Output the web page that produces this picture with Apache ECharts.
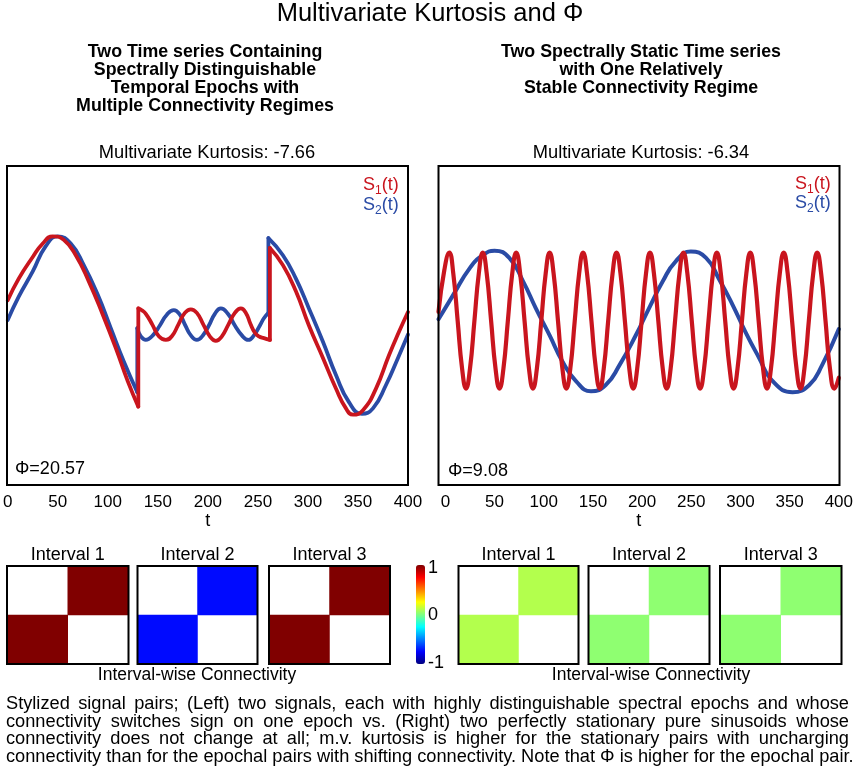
<!DOCTYPE html>
<html>
<head>
<meta charset="utf-8">
<title>Multivariate Kurtosis and Φ</title>
<script src="https://cdn.jsdelivr.net/npm/echarts@6.0.0/dist/echarts.min.js"></script>
<style>
  html, body { margin: 0; padding: 0; background: #fff; }
  #main { width: 856px; height: 772px; }
</style>
</head>
<body>
<div id="main"></div>
<script>
var FONT = '"Liberation Sans", Arial, Helvetica, sans-serif';
var RED = '#c9151e';
var BLUE = '#2a4ba5';

// x axis tick labels (both plots)
var tickValues = [0, 50, 100, 150, 200, 250, 300, 350, 400];

// left plot: three epochs per signal
var leftBlue1 = [[0, 0.06], [11, 0.32], [25, 0.60], [38, 0.88], [50, 0.99], [63, 0.91], [76, 0.67], [90, 0.34], [103, -0.03], [116, -0.40], [129.5, -0.74]];
var leftBlue2 = [[129.5, -0.03], [133, -0.12], [138, -0.16], [145, -0.11], [152, 0.0], [159, 0.12], [166, 0.17], [172, 0.12], [177.5, 0.0], [183, -0.11], [189, -0.16], [195, -0.11], [201, 0.0], [207, 0.13], [213, 0.19], [220, 0.13], [227, 0.0], [234, -0.11], [240.5, -0.16], [246, -0.11], [252, 0.0], [256, 0.08], [260.5, 0.14]];
var leftBlue3 = [[260.5, 0.97], [275, 0.78], [288, 0.52], [301, 0.19], [315, -0.18], [328, -0.55], [341, -0.85], [354, -0.98], [365, -0.92], [378, -0.66], [390, -0.36], [400, -0.10]];

var leftRed1 = [[0, 0.28], [11, 0.52], [25, 0.76], [35, 0.91], [45, 0.99], [56, 0.95], [68, 0.78], [81, 0.49], [95, 0.12], [108, -0.25], [120, -0.62], [130.5, -0.90]];
var leftRed2 = [[130.5, 0.19], [134, 0.17], [138, 0.13], [144.5, 0.01], [151, -0.12], [158, -0.16], [164, -0.12], [170.5, 0.01], [177, 0.14], [183, 0.18], [189, 0.14], [195.5, 0.01], [202, -0.12], [208, -0.17], [214, -0.12], [220.5, 0.01], [227, 0.14], [233, 0.19], [238, 0.14], [242.5, 0.02], [247, -0.08], [251, -0.12], [256, -0.14], [262, -0.16]];
var leftRed3 = [[262, 0.86], [275, 0.67], [288, 0.38], [301, 0.0], [315, -0.36], [328, -0.70], [338, -0.92], [345, -0.99], [355, -0.94], [368, -0.70], [381, -0.33], [391, -0.07], [400, 0.15]];

// right plot: slow and fast stationary sinusoids
var rightBlue = [[-7, 0.07], [8, 0.34], [25, 0.64], [38, 0.78], [50, 0.83], [65, 0.75], [79, 0.49], [92, 0.19], [106, -0.11], [119, -0.40], [133, -0.62], [148, -0.73], [163, -0.66], [177, -0.44], [194, -0.10], [207, 0.19], [221, 0.49], [234, 0.71], [249.5, 0.82], [265, 0.75], [278, 0.52], [292, 0.23], [305, -0.07], [319, -0.36], [332, -0.61], [353, -0.74], [370, -0.66], [383, -0.44], [400, -0.04]];
var rightRed = [[-7, 0.15], [-1, 0.62],
  [4, 0.81], [8, 0.58], [12.5, 0.05], [17, -0.48], [21, -0.70], [25, -0.48], [29.5, 0.05], [34, 0.58],
  [38, 0.81], [42, 0.58], [46.5, 0.05], [51, -0.48], [55, -0.70], [59, -0.48], [63.5, 0.05], [68, 0.58],
  [72, 0.81], [76, 0.58], [80.5, 0.05], [85, -0.48], [89, -0.70], [93, -0.48], [97.5, 0.05], [102, 0.58],
  [106, 0.81], [110, 0.58], [114.5, 0.05], [119, -0.48], [123, -0.70], [127, -0.48], [131.5, 0.05], [136, 0.58],
  [140, 0.81], [144, 0.58], [148.5, 0.05], [153, -0.48], [157, -0.70], [161, -0.48], [165.5, 0.05], [170, 0.58],
  [174, 0.81], [178, 0.58], [182.5, 0.05], [187, -0.48], [191, -0.70], [195, -0.48], [199.5, 0.05], [204, 0.58],
  [208, 0.81], [212, 0.58], [216.5, 0.05], [221, -0.48], [225, -0.70], [229, -0.48], [233.5, 0.05], [238, 0.58],
  [242, 0.81], [246, 0.58], [250.5, 0.05], [255, -0.48], [259, -0.70], [263, -0.48], [267.5, 0.05], [272, 0.58],
  [276, 0.81], [280, 0.58], [284.5, 0.05], [289, -0.48], [293, -0.70], [297, -0.48], [301.5, 0.05], [306, 0.58],
  [310, 0.81], [314, 0.58], [318.5, 0.05], [323, -0.48], [327, -0.70], [331, -0.48], [335.5, 0.05], [340, 0.58],
  [344, 0.81], [348, 0.58], [352.5, 0.05], [357, -0.48], [361, -0.70], [365, -0.48], [369.5, 0.05], [374, 0.58],
  [378, 0.81], [382, 0.58], [386.5, 0.05], [391, -0.48], [395.5, -0.70], [400, -0.58]];

// interval-wise connectivity (off-diagonal value of each 2x2 matrix)
var intervalNames = ['Interval 1', 'Interval 2', 'Interval 3'];
var leftConn = [1, -0.73, 1];
var rightConn = [0.1, 0.03, 0.03];
var colorbarTicks = [-1, 0, 1];

var kurtLeft = 'Multivariate Kurtosis: -7.66';
var kurtRight = 'Multivariate Kurtosis: -6.34';
var phiLeft = 'Φ=20.57';
var phiRight = 'Φ=9.08';

var subLeft = ['Two Time series Containing', 'Spectrally Distinguishable', 'Temporal Epochs with', 'Multiple Connectivity Regimes'];
var subRight = ['Two Spectrally Static Time series', 'with One Relatively', 'Stable Connectivity Regime'];

var captionLines = [
  'Stylized signal pairs; (Left) two signals, each with highly distinguishable spectral epochs and whose',
  'connectivity switches sign on one epoch vs. (Right) two perfectly stationary pure sinusoids whose',
  'connectivity does not change at all; m.v. kurtosis is higher for the stationary pairs with uncharging',
  'connectivity than for the epochal pairs with shifting connectivity. Note that Φ is higher for the epochal pair.'
];

// jet colormap sampled every 0.25 from -1 to 1
var jet = ['#000080', '#0000ff', '#0080ff', '#00ffff', '#80ff80', '#ffff00', '#ff8000', '#ff0000', '#800000'];

var chart = echarts.init(document.getElementById('main'));

var ctx = document.createElement('canvas').getContext('2d');
function measure(s, font) {
    ctx.font = font;
    return ctx.measureText(s).width;
}

function label(s, x, y, size, o) {
    o = o || {};
    var align = o.align || 'center';
    return {
        type: 'text', x: x, y: y, z: 100, silent: true,
        style: {
            text: s,
            font: (o.bold ? 'bold ' : '') + size + 'px ' + FONT,
            fill: o.color || '#000',
            align: align, textAlign: align,
            verticalAlign: 'middle', textVerticalAlign: 'middle'
        }
    };
}

function frame(l, t, w, h) {
    return {
        type: 'rect', z: 100, silent: true,
        shape: { x: l, y: t, width: w, height: h },
        style: { fill: null, stroke: '#000', lineWidth: 2 }
    };
}

// S_k(t) legend text with a subscript
function legendEntry(x, y, sub, color) {
    var fBig = '18px ' + FONT, fSmall = '12px ' + FONT;
    var w1 = measure('S', fBig), w2 = measure(sub, fSmall);
    return [
        label('S', x, y, 18, { color: color, align: 'left' }),
        label(sub, x + w1, y + 5.5, 12, { color: color, align: 'left' }),
        label('(t)', x + w1 + w2, y, 18, { color: color, align: 'left' })
    ];
}

var plotBoxes = [
    { left: 7, top: 166, width: 401, height: 319 },
    { left: 438.5, top: 166, width: 401, height: 319 }
];
var hmBoxes = [
    { left: 7, width: 121.5 }, { left: 137.5, width: 120 }, { left: 269, width: 121 },
    { left: 458.5, width: 120 }, { left: 588.5, width: 121 }, { left: 720, width: 121.5 }
];
var hmTop = 566, hmHeight = 98;

var grids = [], xAxes = [], yAxes = [], series = [], graphics = [];

// line plots
plotBoxes.forEach(function (b, i) {
    grids.push({ left: b.left, top: b.top, width: b.width, height: b.height });
    xAxes.push({
        gridIndex: i, type: 'value', min: i === 0 ? 0 : -7, max: 400,
        name: 't', nameLocation: 'middle', nameGap: 27,
        nameTextStyle: { fontSize: 18, color: '#000', fontFamily: FONT },
        axisLine: { show: false }, axisTick: { show: false }, splitLine: { show: false },
        axisLabel: { customValues: tickValues, fontSize: 17, color: '#000', fontFamily: FONT, margin: 9 }
    });
    yAxes.push({ gridIndex: i, type: 'value', min: -1.77, max: 1.77, show: false });
    graphics.push(frame(b.left, b.top, b.width, b.height));
});

function line(idx, data, color, smooth, width) {
    return {
        type: 'line', xAxisIndex: idx, yAxisIndex: idx, data: data,
        smooth: smooth, symbol: 'none', silent: true,
        lineStyle: { color: color, width: width, cap: 'round', join: 'round' }
    };
}

// left plot: smooth epochs plus the vertical jumps between them
[[leftBlue1, leftBlue2, leftBlue3, BLUE], [leftRed1, leftRed2, leftRed3, RED]].forEach(function (s) {
    var segs = s.slice(0, 3), color = s[3];
    segs.forEach(function (seg, k) {
        series.push(line(0, seg, color, true, 3.8));
        if (k < segs.length - 1) {
            series.push(line(0, [seg[seg.length - 1], segs[k + 1][0]], color, false, 3.8));
        }
    });
});
series.push(line(1, rightBlue, BLUE, true, 4));
series.push(line(1, rightRed, RED, true, 4.2));

// connectivity heatmaps
var hmSeriesIdx = [];
var conn = leftConn.concat(rightConn);
hmBoxes.forEach(function (b, i) {
    var gi = grids.length;
    grids.push({ left: b.left, top: hmTop, width: b.width, height: hmHeight, show: true, backgroundColor: '#fff', borderWidth: 0 });
    xAxes.push({ gridIndex: gi, type: 'category', data: ['1', '2'], show: false });
    yAxes.push({ gridIndex: gi, type: 'category', data: ['2', '1'], show: false });
    hmSeriesIdx.push(series.length);
    series.push({
        type: 'heatmap', xAxisIndex: gi, yAxisIndex: gi, silent: true,
        data: [[1, 1, conn[i]], [0, 0, conn[i]]],
        itemStyle: { borderWidth: 0 }
    });
    graphics.push(frame(b.left, hmTop, b.width, hmHeight));
    graphics.push(label(intervalNames[i % 3], b.left + b.width / 2, 555.5, 18));
});

// colorbar tick labels
var cbGrid = grids.length;
grids.push({ left: 416, top: 568, width: 9, height: 95 });
xAxes.push({ gridIndex: cbGrid, type: 'value', show: false });
yAxes.push({
    gridIndex: cbGrid, type: 'value', min: colorbarTicks[0], max: colorbarTicks[2], interval: 1,
    position: 'right', axisLine: { show: false }, axisTick: { show: false }, splitLine: { show: false },
    axisLabel: { fontSize: 18, color: '#000', fontFamily: FONT, margin: 3 }
});

// texts
graphics.push(label('Multivariate Kurtosis and Φ', 430, 13.5, 25.5));
subLeft.forEach(function (s, i) { graphics.push(label(s, 205, 52 + i * 18, 17.8, { bold: true })); });
subRight.forEach(function (s, i) { graphics.push(label(s, 641, 52 + i * 18, 17.8, { bold: true })); });
graphics.push(label(kurtLeft, 207, 153, 18.3));
graphics.push(label(kurtRight, 641, 153, 18.3));
graphics = graphics.concat(legendEntry(363, 185, '1', RED), legendEntry(363, 205, '2', BLUE));
graphics = graphics.concat(legendEntry(795, 184, '1', RED), legendEntry(795, 203.5, '2', BLUE));
graphics.push(label(phiLeft, 15, 469.5, 18, { align: 'left' }));
graphics.push(label(phiRight, 448, 471, 18, { align: 'left' }));
graphics.push(label('Interval-wise Connectivity', 197, 675, 17.5));
graphics.push(label('Interval-wise Connectivity', 651, 675, 17.5));

// caption: last line at natural width, the others justified
var capLeft = 6, capRight = 849;
var capSize = 17 * 848 / measure(captionLines[3], '17px ' + FONT);
var capFont = capSize + 'px ' + FONT;
captionLines.forEach(function (ln, i) {
    var y = 704 + i * 17.6;
    if (i === captionLines.length - 1) {
        graphics.push(label(ln, capLeft, y, capSize, { align: 'left' }));
        return;
    }
    var words = ln.split(' ');
    var widths = words.map(function (w) { return measure(w, capFont); });
    var total = widths.reduce(function (a, b) { return a + b; }, 0);
    var gap = (capRight - capLeft - total) / (words.length - 1);
    var x = capLeft;
    words.forEach(function (w, k) {
        graphics.push(label(w, x, y, capSize, { align: 'left' }));
        x += widths[k] + gap;
    });
});

var option = {
    backgroundColor: '#fff',
    animation: false,
    grid: grids,
    xAxis: xAxes,
    yAxis: yAxes,
    visualMap: {
        type: 'continuous', min: -1, max: 1, seriesIndex: hmSeriesIdx,
        orient: 'vertical', left: 416, top: 565, itemWidth: 9, itemHeight: 99,
        padding: 0, calculable: false, showLabel: false,
        inRange: { color: jet }
    },
    series: series,
    graphic: { elements: graphics }
};
chart.setOption(option);
</script>
</body>
</html>
